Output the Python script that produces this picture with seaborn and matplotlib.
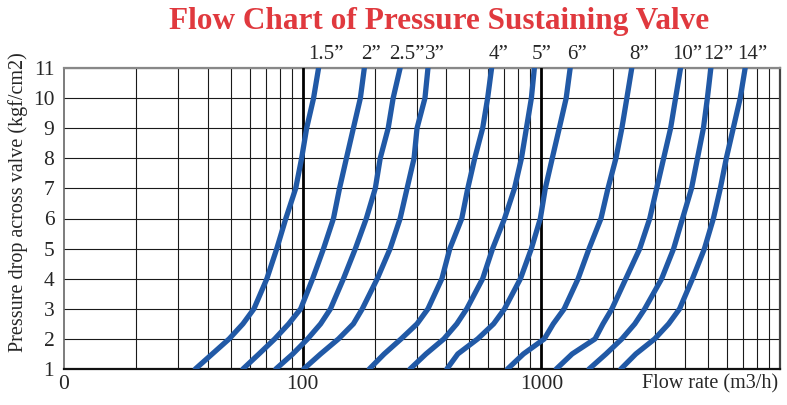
import numpy as np
import pandas as pd
import matplotlib
matplotlib.use("Agg")
import matplotlib.pyplot as plt
from matplotlib.ticker import FixedLocator, LogLocator, NullFormatter
import seaborn as sns

# pressure drop points (kgf/cm2) at which each curve was read
pressure = [1, 1.5, 2, 2.5, 3, 4, 5, 6, 7, 8, 9, 10, 11]

# flow rate (m3/h) for each valve size
sizes = ["1.5”", "2”", "2.5”", "3”", "4”", "5”", "6”", "8”", "10”", "12”", "14”"]
flow_15 = [35.5, 41.8, 49.2, 56.2, 62.5, 70.8, 77.9, 85.0, 93.5, 99.0, 103.9, 111.1, 116.6]
flow_2 = [56.2, 65.6, 76.4, 87.4, 98.1, 110.1, 122.3, 134.6, 142.7, 152.5, 163.1, 174.5, 181.3]
flow_25 = [77.2, 90.9, 104.9, 118.9, 130.8, 148.2, 166.3, 184.8, 201.5, 211.3, 228.2, 239.4, 256.1]
flow_3 = [101, 118.9, 141.3, 163.1, 177.8, 205.4, 232.6, 256.1, 273.8, 292.9, 301.4, 325.4, 335]
flow_4 = [190.2, 219.6, 258.5, 301.4, 335, 383.1, 413.7, 464.2, 491.8, 525.9, 567.8, 595.7, 619]
flow_5 = [281.8, 328.6, 390.6, 442.4, 487.0, 567.8, 625, 701.4, 771.9, 825.4, 865.9, 908.5, 935]
flow_6 = [402, 446.7, 541.2, 631, 701.4, 817.5, 908.5, 990.5, 1039, 1111, 1189, 1271, 1321]
flow_8 = [721.8, 841.4, 1029, 1122, 1247, 1426, 1585, 1778, 1902, 2054, 2175, 2282, 2393]
flow_10 = [1155, 1346, 1679, 1813, 1976, 2260, 2585, 2846, 3043, 3254, 3481, 3652, 3831]
flow_12 = [1585, 1866, 2175, 2464, 2713, 3193, 3584, 3905, 4259, 4510, 4777, 4963, 5133]
flow_14 = [2154, 2488, 2985, 3415, 3796, 4299, 4825, 5259, 5623, 5957, 6371, 6813, 7146]

flows = [flow_15, flow_2, flow_25, flow_3, flow_4, flow_5, flow_6,
         flow_8, flow_10, flow_12, flow_14]

xtick_vals = [10, 100, 1000]
xtick_labels = ["0", "100", "1000"]
ytick_vals = list(range(1, 12))

df = pd.DataFrame({
    "size": np.repeat(sizes, len(pressure)),
    "flow": np.concatenate(flows),
    "pressure": pressure * len(sizes),
})

sns.set_style("white")
plt.rcParams["font.family"] = ["Liberation Serif", "DejaVu Serif"]

W, H = 787, 405
fig = plt.figure(figsize=(W / 100, H / 100), dpi=100)
ax = fig.add_axes([64 / W, 1 - 369 / H, (780 - 64) / W, (369 - 68) / H])

sns.lineplot(data=df, x="flow", y="pressure", units="size", estimator=None,
             sort=False, color="#2159a6", linewidth=3.8, ax=ax, zorder=5)

ax.set_xscale("log")
ax.set_xlim(10, 10000)
ax.set_ylim(1, 11)

ax.xaxis.set_major_locator(FixedLocator(xtick_vals))
ax.set_xticklabels(xtick_labels)
ax.xaxis.set_minor_locator(LogLocator(base=10, subs=np.arange(2, 10)))
ax.xaxis.set_minor_formatter(NullFormatter())
ax.set_yticks(ytick_vals)
ax.set_yticklabels([str(v) for v in ytick_vals])

ax.grid(False)
ax.xaxis.grid(True, which="minor", color="#1a1a1a", linewidth=0.8)
ax.yaxis.grid(True, which="major", color="#1a1a1a", linewidth=0.8)
for v in [100, 1000]:
    ax.axvline(v, color="black", linewidth=2.0, zorder=3)

ax.tick_params(axis="both", which="both", length=0, labelsize=15.5)
ax.tick_params(axis="y", pad=7)
ax.tick_params(axis="x", pad=4)

for side, col, lw in [("bottom", "#111111", 1.6), ("top", "#888888", 1.6),
                      ("left", "#666666", 1.2), ("right", "#444444", 1.6)]:
    ax.spines[side].set_color(col)
    ax.spines[side].set_linewidth(lw)
    ax.spines[side].set_visible(True)

ax.set_xlabel("Flow rate (m3/h)", fontsize=14.5, loc="right")
ax.xaxis.set_label_coords(0.997, -0.018)
ax.set_ylabel("Pressure drop across valve (kgf/cm2)", fontsize=14.5)
ax.yaxis.set_label_coords(-0.064, 0.555)
ax.yaxis.label.set_verticalalignment("center")

# size labels above the top end of each curve
for name, fl in zip(sizes, flows):
    ax.annotate(name, xy=(fl[-1], 11), xytext=(5, 3), textcoords="offset points",
                ha="center", va="bottom", fontsize=15, annotation_clip=False)

fig.text(439 / W, 1 - 21 / H, "Flow Chart of Pressure Sustaining Valve",
         ha="center", va="center", fontsize=22.5, fontweight="bold", color="#e0393e")

fig.savefig("out.png", dpi=100)
